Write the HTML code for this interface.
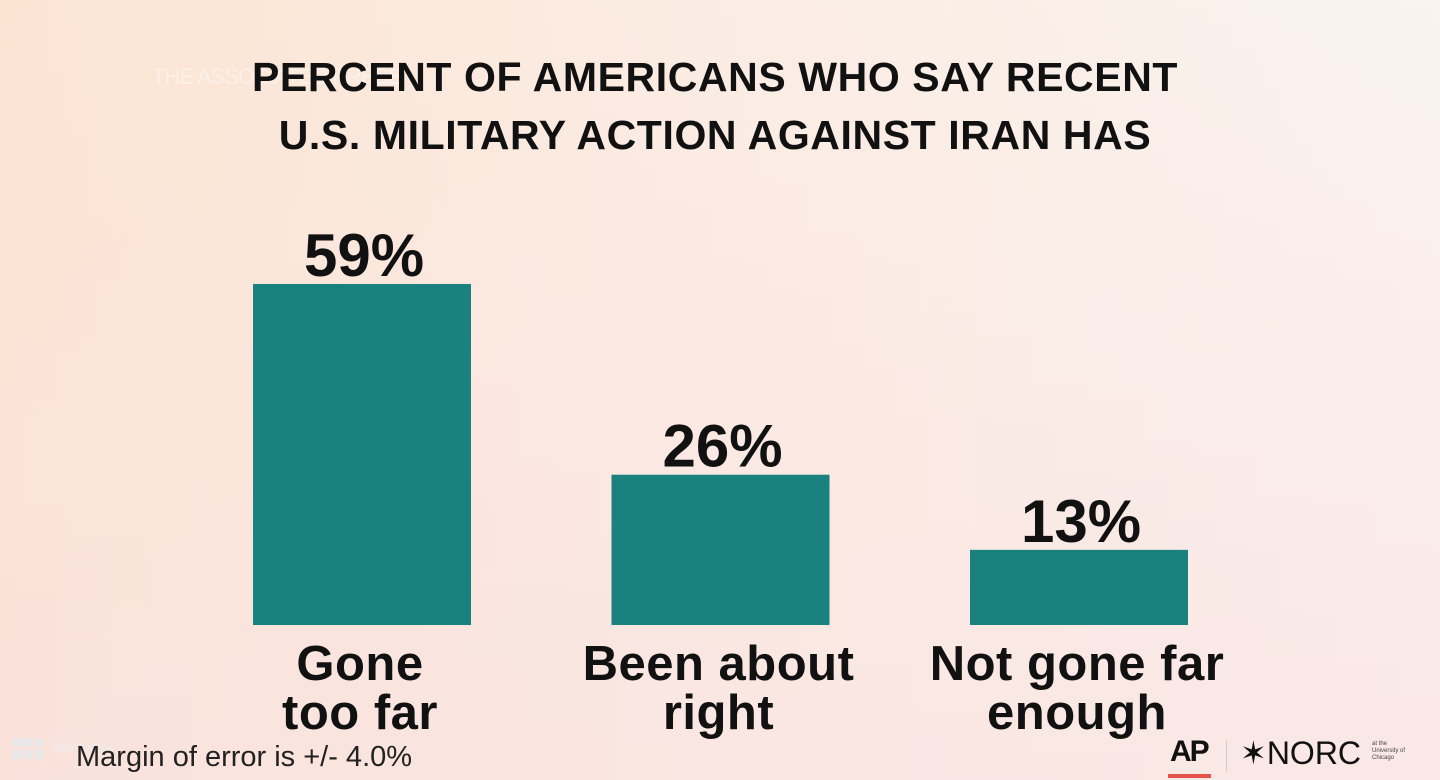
<!DOCTYPE html>
<html><head><meta charset="utf-8">
<style>
html,body{margin:0;padding:0}
body{width:1440px;height:780px;overflow:hidden;position:relative;font-family:"Liberation Sans",sans-serif;
background:linear-gradient(180deg,rgba(255,255,255,0) 0%,rgba(250,225,225,0.6) 100%),linear-gradient(90deg,#fbe4d2 0%,#fbece2 45%,#faf3ef 100%);}
.t{position:absolute;white-space:nowrap}
#title{left:0;width:1430px;top:48px;text-align:center;font-weight:bold;font-size:41px;line-height:58px;color:#111;letter-spacing:0.6px}
.wm{left:152px;top:64px;font-size:22px;color:rgba(255,255,255,0.4);letter-spacing:-1px}
svg{position:absolute;left:0;top:0}
</style></head><body>
<div class="t wm">THE ASSOCIATED PRESS</div>
<div id="title" class="t">PERCENT OF AMERICANS WHO SAY RECENT<br>U.S. MILITARY ACTION AGAINST IRAN HAS</div>
<svg id="chart" width="1440" height="780"></svg>
<div class="t" style="left:12px;top:738px;">
<svg width="32" height="24" style="position:static"><g fill="#e8e8e8"><rect x="0" y="0" width="9" height="9"/><rect x="11" y="0" width="9" height="9"/><rect x="22" y="0" width="9" height="9"/><rect x="0" y="12" width="9" height="9"/><rect x="11" y="12" width="9" height="9"/><rect x="22" y="12" width="9" height="9"/></g></svg>
<span style="position:absolute;left:40px;top:4px;font-size:11px;color:#eee">More Videos</span></div>
<div class="t" style="left:76px;top:741px;font-size:29px;color:#222">Margin of error is +/- 4.0%</div>
<div class="t" style="left:1170px;top:735px;font-size:30px;font-weight:bold;letter-spacing:-2px;color:#111">AP</div>
<div class="t" style="left:1168px;top:774px;width:43px;height:4px;background:#e5534b"></div>
<div class="t" style="left:1226px;top:740px;width:1px;height:32px;background:#ccc"></div>
<div class="t" style="left:1240px;top:734px;font-size:32px;color:#111">✶NORC</div>
<div class="t" style="left:1372px;top:741px;font-size:6px;line-height:7px;color:#444">at the<br>University of<br>Chicago</div>
<script>
const categories=[["Gone","too far"],["Been about","right"],["Not gone far","enough"]];
const values=[59,26,13];
const valueLabels=["59%","26%","13%"];
const svg=document.getElementById('chart');
const NS='http://www.w3.org/2000/svg';
const baseY=625, pxPer=5.78, barW=218;
function x(i){return 362+i*358.5;}
function y(v){return baseY-v*pxPer;}
values.forEach((v,i)=>{
 const r=document.createElementNS(NS,'rect');
 r.setAttribute('x',x(i)-barW/2);r.setAttribute('y',y(v));r.setAttribute('width',barW);r.setAttribute('height',baseY-y(v));r.setAttribute('fill','#1a827e');
 
 
 svg.appendChild(r);
 const t=document.createElementNS(NS,'text');
 t.setAttribute('x',x(i)+2);t.setAttribute('y',y(v)-8);t.setAttribute('text-anchor','middle');
 t.setAttribute('font-family','Liberation Sans, sans-serif');t.setAttribute('font-weight','bold');t.setAttribute('font-size','60');t.setAttribute('fill','#111');
 t.textContent=valueLabels[i];
 
 
 svg.appendChild(t);
 categories[i].forEach((line,j)=>{
  const c=document.createElementNS(NS,'text');
  c.setAttribute('x',x(i)-2);c.setAttribute('y',680+j*49);c.setAttribute('text-anchor','middle');
  c.setAttribute('font-family','Liberation Sans, sans-serif');c.setAttribute('font-weight','bold');c.setAttribute('font-size','49');c.setAttribute('letter-spacing','0.5');c.setAttribute('fill','#111');
  c.textContent=line;
  
  
  svg.appendChild(c);
 });
});
</script>
</body></html>
